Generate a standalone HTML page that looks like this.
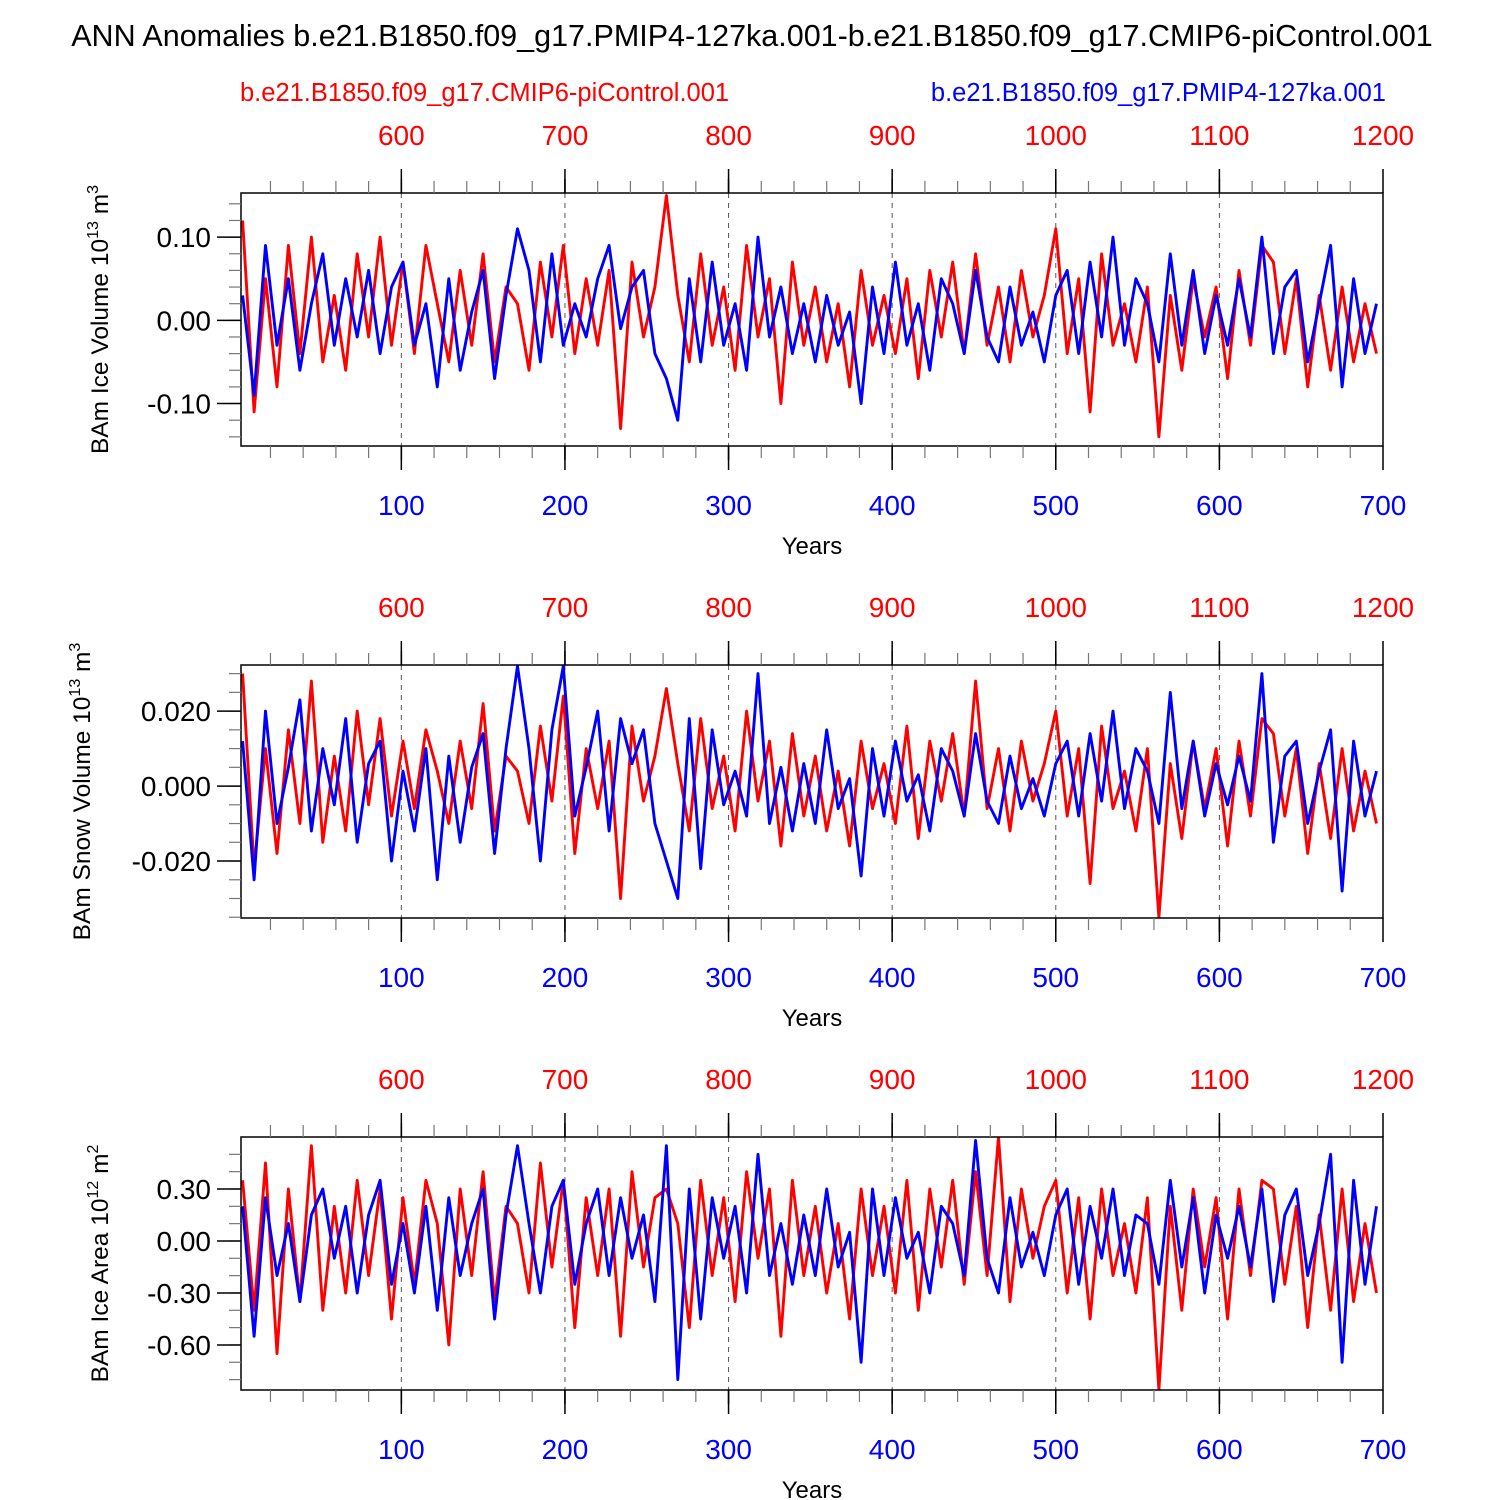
<!DOCTYPE html>
<html><head><meta charset="utf-8">
<style>
html,body{margin:0;padding:0;background:#fff;}
svg{display:block;font-family:"Liberation Sans",Arial,sans-serif;}
</style></head>
<body>
<svg id="chart" width="1500" height="1500" viewBox="0 0 1500 1500" xmlns="http://www.w3.org/2000/svg">
<rect width="1500" height="1500" fill="#fff"/>
<text x="752" y="46" font-size="30.5" text-anchor="middle">ANN Anomalies b.e21.B1850.f09_g17.PMIP4-127ka.001-b.e21.B1850.f09_g17.CMIP6-piControl.001</text>
<text x="240" y="101" font-size="25.5" fill="#ff0000">b.e21.B1850.f09_g17.CMIP6-piControl.001</text>
<text x="1386" y="101" font-size="25.5" fill="#0000ff" text-anchor="end">b.e21.B1850.f09_g17.PMIP4-127ka.001</text>
</svg>
<script>
// Years: index i -> year START + STEP*i
const yearStart = 3;
const yearStep = 7;
const bottomTicks = [100,200,300,400,500,600,700];
const topTicks = [600,700,800,900,1000,1100,1200];
const topOffset = 500;

const iceVolBlue = [0.03,-0.09,0.09,-0.03,0.05,-0.06,0.02,0.08,-0.03,0.05,
-0.02,0.06,-0.04,0.04,0.07,-0.03,0.02,-0.08,0.05,-0.06,
0.01,0.06,-0.07,0.03,0.11,0.06,-0.05,0.08,-0.03,0.02,
-0.02,0.05,0.09,-0.01,0.04,0.06,-0.04,-0.07,-0.12,0.05,
-0.05,0.07,-0.03,0.02,-0.06,0.1,-0.02,0.04,-0.04,0.02,
-0.05,0.03,-0.03,0.01,-0.1,0.04,-0.04,0.07,-0.03,0.02,
-0.06,0.05,0.02,-0.04,0.06,-0.02,-0.05,0.04,-0.03,0.01,
-0.05,0.03,0.06,-0.04,0.07,-0.02,0.1,-0.03,0.05,0.02,
-0.05,0.08,-0.03,0.06,-0.04,0.03,-0.03,0.05,-0.02,0.1,
-0.04,0.04,0.06,-0.05,0.02,0.09,-0.08,0.05,-0.04,0.02];
const iceVolRed = [0.12,-0.11,0.05,-0.08,0.09,-0.04,0.1,-0.05,0.03,-0.06,
0.08,-0.02,0.1,-0.03,0.07,-0.04,0.09,0.02,-0.05,0.06,
-0.03,0.08,-0.05,0.04,0.02,-0.06,0.07,-0.02,0.09,-0.04,
0.05,-0.03,0.06,-0.13,0.07,-0.02,0.04,0.15,0.03,-0.05,
0.08,-0.03,0.04,-0.06,0.09,-0.02,0.05,-0.1,0.07,-0.03,
0.04,-0.05,0.02,-0.08,0.06,-0.03,0.03,-0.04,0.05,-0.07,
0.06,-0.02,0.07,-0.04,0.08,-0.03,0.04,-0.05,0.06,-0.02,
0.03,0.11,-0.04,0.05,-0.11,0.08,-0.03,0.02,-0.05,0.04,
-0.14,0.03,-0.06,0.05,-0.02,0.04,-0.07,0.06,-0.03,0.09,
0.07,-0.04,0.05,-0.08,0.03,-0.06,0.04,-0.05,0.02,-0.04];
const snowBlue = [0.012,-0.025,0.02,-0.01,0.005,0.023,-0.012,0.01,-0.005,0.018,
-0.015,0.006,0.012,-0.02,0.004,-0.012,0.01,-0.025,0.008,-0.015,
0.005,0.014,-0.018,0.01,0.032,0.01,-0.02,0.015,0.032,-0.008,
0.005,0.02,-0.012,0.018,0.006,0.015,-0.01,-0.02,-0.03,0.018,
-0.022,0.015,-0.005,0.004,-0.008,0.03,-0.01,0.005,-0.012,0.006,
-0.01,0.015,-0.006,0.002,-0.024,0.01,-0.008,0.012,-0.004,0.003,
-0.012,0.01,0.004,-0.008,0.014,-0.004,-0.01,0.008,-0.006,0.002,
-0.008,0.006,0.012,-0.008,0.014,-0.004,0.02,-0.006,0.01,0.004,
-0.01,0.025,-0.006,0.012,-0.008,0.006,-0.005,0.008,-0.004,0.03,
-0.015,0.008,0.012,-0.01,0.004,0.015,-0.028,0.012,-0.008,0.004];
const snowRed = [0.03,-0.022,0.01,-0.018,0.015,-0.01,0.028,-0.015,0.008,-0.012,
0.02,-0.005,0.018,-0.008,0.012,-0.006,0.015,0.004,-0.01,0.012,
-0.006,0.022,-0.012,0.008,0.004,-0.01,0.016,-0.004,0.024,-0.018,
0.01,-0.006,0.012,-0.03,0.016,-0.004,0.008,0.026,0.006,-0.012,
0.018,-0.006,0.008,-0.012,0.02,-0.004,0.012,-0.016,0.014,-0.008,
0.008,-0.012,0.004,-0.016,0.012,-0.006,0.006,-0.01,0.016,-0.014,
0.012,-0.004,0.014,-0.008,0.028,-0.006,0.01,-0.012,0.012,-0.004,
0.006,0.02,-0.008,0.01,-0.026,0.016,-0.006,0.004,-0.012,0.01,
-0.035,0.006,-0.014,0.012,-0.006,0.01,-0.016,0.012,-0.008,0.018,
0.014,-0.008,0.01,-0.018,0.006,-0.014,0.01,-0.012,0.004,-0.01];
const areaBlue = [0.2,-0.55,0.25,-0.2,0.1,-0.35,0.15,0.3,-0.1,0.2,
-0.3,0.15,0.35,-0.25,0.1,-0.3,0.2,-0.4,0.25,-0.2,
0.1,0.3,-0.45,0.15,0.55,0.1,-0.3,0.2,0.35,-0.25,
0.1,0.3,-0.2,0.25,-0.1,0.15,-0.35,0.55,-0.8,0.3,
-0.45,0.25,-0.1,0.2,-0.3,0.5,-0.2,0.1,-0.25,0.15,
-0.2,0.3,-0.15,0.05,-0.7,0.3,-0.2,0.25,-0.1,0.05,
-0.3,0.2,0.1,-0.2,0.58,-0.1,-0.3,0.25,-0.15,0.05,
-0.2,0.15,0.3,-0.25,0.2,-0.1,0.3,-0.2,0.15,0.1,
-0.25,0.35,-0.15,0.25,-0.3,0.15,-0.1,0.2,-0.15,0.3,
-0.35,0.15,0.3,-0.2,0.1,0.5,-0.7,0.35,-0.25,0.2];
const areaRed = [0.35,-0.4,0.45,-0.65,0.3,-0.35,0.55,-0.4,0.2,-0.3,
0.35,-0.2,0.3,-0.45,0.25,-0.25,0.35,0.1,-0.6,0.3,
-0.2,0.4,-0.35,0.2,0.1,-0.3,0.45,-0.15,0.35,-0.5,
0.25,-0.2,0.3,-0.55,0.4,-0.15,0.25,0.3,0.1,-0.5,
0.35,-0.2,0.25,-0.35,0.4,-0.1,0.3,-0.55,0.35,-0.2,
0.2,-0.3,0.1,-0.45,0.3,-0.2,0.2,-0.3,0.35,-0.4,
0.3,-0.15,0.35,-0.25,0.4,-0.2,0.6,-0.35,0.3,-0.1,
0.2,0.35,-0.3,0.25,-0.45,0.3,-0.2,0.1,-0.3,0.25,
-0.86,0.2,-0.4,0.3,-0.15,0.25,-0.45,0.3,-0.2,0.35,
0.3,-0.25,0.2,-0.5,0.15,-0.4,0.3,-0.35,0.1,-0.3];

const iceVolTicks = [0.10,0.00,-0.10];
const iceVolLabels = ["0.10","0.00","-0.10"];
const snowTicks = [0.02,0.0,-0.02];
const snowLabels = ["0.020","0.000","-0.020"];
const areaTicks = [0.3,0.0,-0.3,-0.6];
const areaLabels = ["0.30","0.00","-0.30","-0.60"];

const NS="http://www.w3.org/2000/svg";
const svg=document.getElementById('chart');
const X0=241,X1=1383,XMIN=2,XMAX=700;
function xScale(yr){return X0+(yr-XMIN)/(XMAX-XMIN)*(X1-X0);}
function mk(tag,attrs,parent){const e=document.createElementNS(NS,tag);for(const k in attrs)e.setAttribute(k,attrs[k]);(parent||svg).appendChild(e);return e;}

const panels=[
 {key:'ice-volume',top:193,bot:446,ymin:-0.151,ymax:0.153,ticks:iceVolTicks,labels:iceVolLabels,minor:0.02,blue:iceVolBlue,red:iceVolRed,
  title:['BAm Ice Volume 10','13',' m','3'],tx:100},
 {key:'snow-volume',top:665,bot:918,ymin:-0.0352,ymax:0.0323,ticks:snowTicks,labels:snowLabels,minor:0.005,blue:snowBlue,red:snowRed,
  title:['BAm Snow Volume 10','13',' m','3'],tx:82},
 {key:'ice-area',top:1137,bot:1390,ymin:-0.86,ymax:0.6,ticks:areaTicks,labels:areaLabels,minor:0.1,blue:areaBlue,red:areaRed,
  title:['BAm Ice Area 10','12',' m','2'],tx:100}
];

panels.forEach((p,pi)=>{
  const g=mk('g',{});
  
  
  const yS=v=>p.bot-(v-p.ymin)/(p.ymax-p.ymin)*(p.bot-p.top);
  const cid='clip'+pi;
  const cp=mk('clipPath',{id:cid},g);
  mk('rect',{x:X0,y:p.top,width:X1-X0,height:p.bot-p.top},cp);
  bottomTicks.forEach(t=>{
    if(t>=XMAX) return;
    const gl=mk('line',{x1:xScale(t),x2:xScale(t),y1:p.top,y2:p.bot,stroke:'#555','stroke-width':1,'stroke-dasharray':'5,5'},g);
    
    
  });
  [['red',p.red,'#ff0000'],['blue',p.blue,'#0000ff']].forEach(([nm,arr,col])=>{
    const pts=arr.map((v,i)=>xScale(yearStart+yearStep*i).toFixed(1)+','+yS(v).toFixed(1)).join(' ');
    const pl=mk('polyline',{points:pts,fill:'none',stroke:col,'stroke-width':2.9,'stroke-linejoin':'round','clip-path':'url(#'+cid+')'},g);
    
    
  });
  const fr=mk('rect',{x:X0,y:p.top,width:X1-X0,height:p.bot-p.top,fill:'none',stroke:'#000','stroke-width':1.5},g);
  
  
  for(let t=20;t<XMAX;t+=20){
    const x=xScale(t);const major=(t%100===0);
    const L=major?14:12;
    mk('line',{x1:x,x2:x,y1:p.bot,y2:p.bot+L,stroke:major?'#000':'#777','stroke-width':major?1.5:1.2},g);
    mk('line',{x1:x,x2:x,y1:p.top,y2:p.top-L,stroke:major?'#000':'#777','stroke-width':major?1.5:1.2},g);
  }
  bottomTicks.forEach((t,i)=>{
    const x=xScale(t);
    mk('line',{x1:x,x2:x,y1:p.bot,y2:p.bot+24,stroke:'#000','stroke-width':1.5},g);
    mk('line',{x1:x,x2:x,y1:p.top,y2:p.top-24,stroke:'#000','stroke-width':1.5},g);
    const bl=mk('text',{x:x,y:p.bot+69,'font-size':28,'text-anchor':'middle',fill:'#0000ff'},g);
    bl.textContent=t;
    
    
    const tl=mk('text',{x:x,y:p.top-48,'font-size':28,'text-anchor':'middle',fill:'#ff0000'},g);
    tl.textContent=topTicks[i];
    
    
  });
  const xt=mk('text',{x:812,y:p.bot+108,'font-size':24,'text-anchor':'middle'},g);
  xt.textContent='Years';
  
  
  const start=Math.ceil(p.ymin/p.minor);
  for(let k=start;k*p.minor<=p.ymax;k++){
    const v=k*p.minor;const y=yS(v);
    mk('line',{x1:X0,x2:X0-12,y1:y,y2:y,stroke:'#777','stroke-width':1.2},g);
  }
  p.ticks.forEach((v,i)=>{
    const y=yS(v);
    mk('line',{x1:X0,x2:X0-24,y1:y,y2:y,stroke:'#000','stroke-width':1.5},g);
    const tl=mk('text',{x:X0-30,y:y+10,'font-size':28,'text-anchor':'end'},g);
    tl.textContent=p.labels[i];
    
    
  });
  const cy=(p.top+p.bot)/2;
  const yt=mk('text',{x:0,y:0,'font-size':24.5,'text-anchor':'middle',transform:'translate('+(p.tx+8)+','+cy+') rotate(-90)'},g);
  
  
  const parts=p.title;
  const s1=mk('tspan',{},yt);s1.textContent=parts[0];
  const s2=mk('tspan',{'font-size':16,dy:-10},yt);s2.textContent=parts[1];
  const s3=mk('tspan',{dy:10},yt);s3.textContent=parts[2];
  const s4=mk('tspan',{'font-size':16,dy:-10},yt);s4.textContent=parts[3];
});
</script>
</body></html>
